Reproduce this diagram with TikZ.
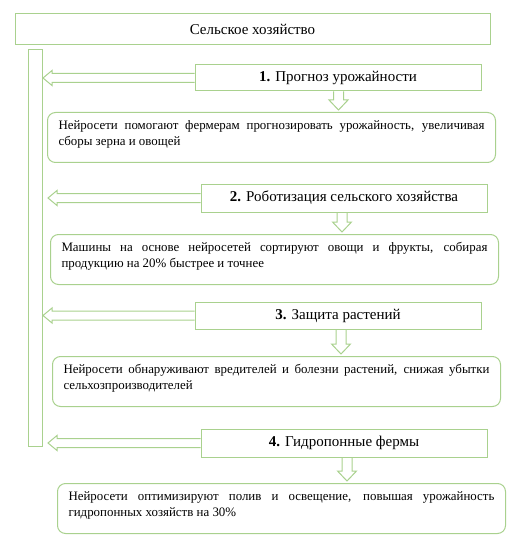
\documentclass[tikz,border=0pt]{standalone}
\usepackage{fontspec}
\setmainfont{Liberation Serif}
\usetikzlibrary{calc}
\definecolor{gr}{HTML}{A9D18E}
\begin{document}
\begin{tikzpicture}[x=1pt,y=-1pt,
  box/.style={draw=gr, line width=1pt, inner sep=0pt, minimum width=286pt, font=\fontsize{15}{17}\selectfont},
  desc/.style={draw=gr, line width=1pt, rounded corners=8pt, inner xsep=10pt, inner ysep=0pt, minimum width=448pt, minimum height=50pt, anchor=north west, font=\fontsize{12.9}{16}\selectfont},
  conn/.style={draw=gr, line width=1pt, line join=miter}]
\useasboundingbox (0,0) rectangle (514,548);
\node[box, minimum width=475pt, minimum height=31pt] (title) at (252.5,29.5) {Сельское хозяйство};
\node[draw=gr, line width=1pt, minimum width=14pt, minimum height=397pt, anchor=north west, inner sep=0pt] (bar) at (28,49) {};

\node[box, minimum height=26pt] (b1) at (338,78) {\textbf{1.} Прогноз урожайности};
\node[box, minimum height=28pt] (b2) at (344,198) {\textbf{2.} Роботизация сельского хозяйства};
\node[box, minimum height=27pt] (b3) at (338,315.5) {\textbf{3.} Защита растений};
\node[box, minimum height=28pt] (b4) at (344,443) {\textbf{4.} Гидропонные фермы};

\node[desc] (d1) at (47,112) {\parbox[t][34pt][t]{426pt}{Нейросети помогают фермерам прогнозировать урожайность, увеличивая\linebreak сборы зерна и овощей}};
\node[desc] (d2) at (50,234) {\parbox[t][34pt][t]{426pt}{Машины на основе нейросетей сортируют овощи и фрукты, собирая\linebreak продукцию на 20\% быстрее и точнее}};
\node[desc] (d3) at (52,356) {\parbox[t][34pt][t]{426pt}{Нейросети обнаруживают вредителей и болезни растений, снижая убытки\linebreak сельхозпроизводителей}};
\node[desc] (d4) at (57,483) {\parbox[t][34pt][t]{426pt}{Нейросети оптимизируют полив и освещение, повышая урожайность\linebreak гидропонных хозяйств на 30\%}};

% left hollow arrows
\foreach \b/\g in {b1/0pt, b2/5pt, b3/0pt, b4/5pt}{
  \draw[conn] let \p1=(\b.west), \p2=(bar.east) in
    (\x1,\y1+4.5pt) -- (\x2+\g+9pt,\y1+4.5pt) -- (\x2+\g+9pt,\y1+7.5pt) -- (\x2+\g,\y1)
    -- (\x2+\g+9pt,\y1-7.5pt) -- (\x2+\g+9pt,\y1-4.5pt) -- (\x1,\y1-4.5pt);
}
% down hollow arrows
\foreach \b/\d/\s in {b1/d1/0.5pt, b2/d2/-2pt, b3/d3/3pt, b4/d4/3pt}{
  \draw[conn] let \p1=($(\b.south)+(\s,0)$), \p2=(\d.north) in
    (\x1-5pt,\y1) -- (\x1-5pt,\y2+12pt) -- (\x1-9.5pt,\y2+12pt) -- (\x1,\y2+2pt)
    -- (\x1+9.5pt,\y2+12pt) -- (\x1+5pt,\y2+12pt) -- (\x1+5pt,\y1);
}
\end{tikzpicture}
\end{document}
